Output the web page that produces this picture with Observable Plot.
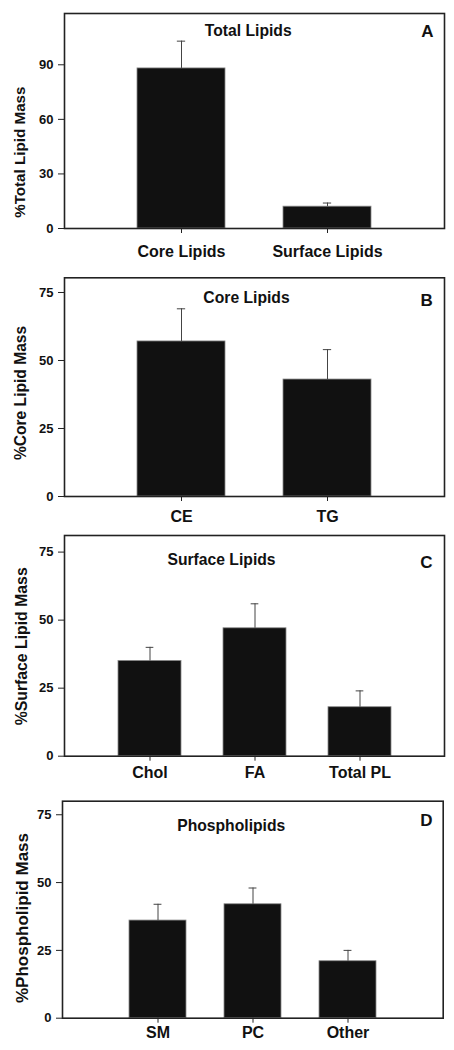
<!DOCTYPE html>
<html><head><meta charset="utf-8">
<script src="https://cdn.jsdelivr.net/npm/d3@7"></script>
<script src="https://cdn.jsdelivr.net/npm/@observablehq/plot@0.6"></script>
<style>body{margin:0;background:#fff;} #chart svg{display:block;}</style>
</head><body><div id="chart"></div>
<script>
// Data
const totalCategories = ["Core Lipids", "Surface Lipids"];
const totalValues = [88, 12];
const totalErrors = [15, 2];
const coreCategories = ["CE", "TG"];
const coreValues = [57, 43];
const coreErrors = [12, 11];
const surfaceCategories = ["Chol", "FA", "Total PL"];
const surfaceValues = [35, 47, 18];
const surfaceErrors = [5, 9, 6];
const phosphoCategories = ["SM", "PC", "Other"];
const phosphoValues = [36, 42, 21];
const phosphoErrors = [6, 6, 4];
const totalTicks = [0, 30, 60, 90];
const percentTicks = [0, 25, 50, 75];
const panelTitles = ["Total Lipids", "Core Lipids", "Surface Lipids", "Phospholipids"];
const panelLetters = ["A", "B", "C", "D"];
const yLabels = ["%Total Lipid Mass", "%Core Lipid Mass", "%Surface Lipid Mass", "%Phospholipid Mass"];

// Layout (styles / positions only)
const layouts = [
  {h: 268, mt: 13, mb: 40, ml: 64, mr: 10, ymax: 118.2, po: 0.5, xpad: 12.6, tdx: 183.7, tdy: 22, ldx: -11, ldy: 23.7, ydx: -44.3, ydy: 31.2, yfs: 15.2},
  {h: 260, mt: 9.3, mb: 32, ml: 64, mr: 10, ymax: 80.4, po: 0.5, xpad: 9.3, tdx: 182, tdy: 24.7, ldx: -11.7, ldy: 28.4, ydx: -44, ydy: 5.8, yfs: 15.6},
  {h: 262, mt: 7, mb: 34.3, ml: 64, mr: 10, ymax: 81.1, po: 0.5, xpad: 5.9, tdx: 157, tdy: 29.3, ldx: -12, ldy: 32, ydx: -42.3, ydy: 0.5, yfs: 15.8},
  {h: 260, mt: 10.7, mb: 32.3, ml: 62, mr: 11.3, ymax: 80, po: 0.7, xpad: 3.9, tdx: 168.7, tdy: 29.3, ldx: -10.7, ldy: 25, ydx: -40.3, ydy: 8.3, yfs: 17}
];

const panels = [
  {cats: totalCategories, vals: totalValues, errs: totalErrors, ticks: totalTicks},
  {cats: coreCategories, vals: coreValues, errs: coreErrors, ticks: percentTicks},
  {cats: surfaceCategories, vals: surfaceValues, errs: surfaceErrors, ticks: percentTicks},
  {cats: phosphoCategories, vals: phosphoValues, errs: phosphoErrors, ticks: percentTicks}
];

function makePanel(p, i) {
  const L = layouts[i];
  const data = p.cats.map((c, j) => ({cat: c, value: p.vals[j], top: p.vals[j] + p.errs[j]}));
  const plotW = 454 - L.ml - L.mr;
  const step = plotW / (p.cats.length - 0.4 + 2 * L.po);
  const bw = step * 0.6;
  const capInset = (bw - 8) / 2;
  return Plot.plot({
    width: 454, height: L.h,
    marginTop: L.mt, marginBottom: L.mb, marginLeft: L.ml, marginRight: L.mr,
    x: {domain: p.cats, paddingInner: 0.4, paddingOuter: L.po, axis: null},
    y: {domain: [0, L.ymax], axis: null},
    style: {fontFamily: "'Liberation Sans', Arial, sans-serif", fontWeight: "bold", color: "#111", background: "#fff"},
    marks: [
      Plot.barY(data, {x: "cat", y: "value", fill: "#111", stroke: "#888", strokeWidth: 0.8}),
      Plot.ruleX(data, {x: "cat", y1: "value", y2: "top", stroke: "#444", strokeWidth: 1}),
      Plot.tickY(data, {x: "cat", y: "top", stroke: "#444", strokeWidth: 1, insetLeft: capInset, insetRight: capInset}),
      Plot.axisY({ticks: p.ticks, tickSize: 6, tickPadding: 5, fontSize: 13, label: null, stroke: "#222"}),
      Plot.axisX({tickSize: 5, tickPadding: L.xpad, fontSize: 16, label: null, stroke: "#222"}),
      Plot.frame({stroke: "#222", strokeWidth: 1.6}),
      Plot.text([panelTitles[i]], {text: d => d, frameAnchor: "top-left", dx: L.tdx, dy: L.tdy, textAnchor: "middle", lineAnchor: "bottom", fontSize: 15.7, fill: "#111"}),
      Plot.text([panelLetters[i]], {text: d => d, frameAnchor: "top-right", dx: L.ldx, dy: L.ldy, textAnchor: "end", lineAnchor: "bottom", fontSize: 17, fill: "#111"}),
      Plot.text([yLabels[i]], {text: d => d, frameAnchor: "left", dx: L.ydx, dy: L.ydy, rotate: -90, textAnchor: "middle", lineAnchor: "middle", fontSize: L.yfs, fill: "#111"})
    ]
  });
}

const container = document.getElementById("chart");
panels.forEach((p, i) => container.appendChild(makePanel(p, i)));
</script>
</body></html>
